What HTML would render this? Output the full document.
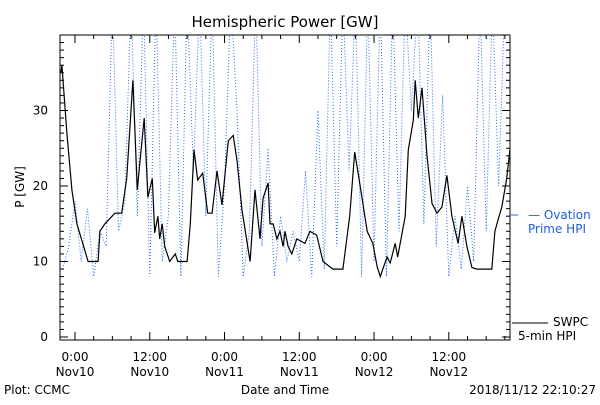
<!DOCTYPE html>
<html><head><meta charset="utf-8"><style>
body{margin:0;background:#fff;}
svg text{font-family:"DejaVu Sans","Liberation Sans",sans-serif;font-size:12px;}
</style></head><body>
<svg id="chart" width="600" height="400" xmlns="http://www.w3.org/2000/svg">
<rect width="600" height="400" fill="#fff"/>
<text x="285" y="27" text-anchor="middle" style="font-size:15px">Hemispheric Power [GW]</text>
<g id="plot"></g>
<text transform="translate(24,187) rotate(-90)" text-anchor="middle">P [GW]</text>
<text x="285" y="394" text-anchor="middle">Date and Time</text>
<text x="4" y="394">Plot: CCMC</text>
<text x="596" y="394" text-anchor="end">2018/11/12 22:10:27</text>
<g fill="#2060e0">
<line x1="510" y1="215" x2="518" y2="215" stroke="#2060e0"/>
<text x="528" y="219" fill="#2060e0">— Ovation</text>
<text x="528" y="233" fill="#2060e0">Prime HPI</text>
</g>
<g>
<line x1="512" y1="323" x2="548" y2="323" stroke="#000"/>
<text x="553" y="326">SWPC</text>
<text x="518" y="340">5-min HPI</text>
</g>
</svg>
<script>
const blackHours=[-2.25,-2.1,-1.3,-0.5,0.3,2.1,3.7,4.0,4.8,6.4,7.5,8.3,9.3,10.0,10.4,11.1,11.7,12.4,12.8,13.3,13.6,14.0,14.4,15.2,16.1,16.5,18.0,18.5,19.1,19.7,20.5,21.3,22.0,22.8,23.6,24.6,25.4,26.0,26.8,28.1,28.9,29.7,30.2,31.0,31.3,31.8,32.4,32.9,33.4,33.7,34.2,34.8,35.6,36.9,37.7,38.8,39.8,41.4,43.0,44.1,44.9,45.7,46.9,47.8,48.5,49.0,49.4,50.1,50.6,51.4,51.8,53.0,53.5,54.3,54.6,55.1,55.7,56.5,57.3,58.1,58.9,59.7,60.5,61.5,62.1,62.9,63.7,64.5,66.9,67.4,67.9,68.5,69.3,69.8];
const blackValues=[35,36,27,19.5,15,10,10,14,15,16.4,16.4,21,34,19.5,23,29,18.5,21,13.8,16,13,15,12,10,11,10,10,15,24.8,20.8,21.7,16.4,16.4,22,17.5,26,26.7,23.4,16.8,10,19.5,13,18.4,20.4,15,15,13,14,12,14,12,11,13,12.4,14,13.5,10,9,9,16,24.5,20.4,14,12.4,9.3,8,9,10.6,9.8,12.4,10.6,16,24.8,28.7,34,29,33,24,17.7,16.4,17.2,21.4,16,12.4,16,12,9.2,9,9,14,15.5,17.2,21,24.8];
const blueStart=-2;
const blueValues=[9,12,18,10,17,8,14,12,45,14,18,45,16,45,8,45,10,16,45,8,45,22,45,16,45,8,20,45,30,8,14,45,12,25,8,16,10,14,10,22,8,30,9,45,12,45,22,45,8,45,10,45,8,45,14,45,30,45,15,45,12,32,8,16,9,20,10,45,14,45,20,45];
const yTicks=[0,10,20,30];
const xTickHours=[0,12,24,36,48,60];
const xTickLabels=["0:00","12:00","0:00","12:00","0:00","12:00"];
const xTickDays=["Nov10","Nov10","Nov11","Nov11","Nov12","Nov12"];

const NS="http://www.w3.org/2000/svg";
const L=60,R=510,T=35,B=340;
const xs=h=>75+h*6.23;
const ys=v=>337-v*7.55;
const plot=document.getElementById('plot');
function mk(tag,attrs,parent){const e=document.createElementNS(NS,tag);for(const k in attrs)e.setAttribute(k,attrs[k]);(parent||plot).appendChild(e);return e;}
const defs=mk('defs',{});
const cp=mk('clipPath',{id:'clip'},defs);
mk('rect',{x:L,y:T,width:R-L,height:B-T},cp);
// blue series
let bp=blueValues.map((v,i)=>xs(blueStart+i).toFixed(1)+','+ys(v).toFixed(1)).join(' ');
const blue=mk('polyline',{points:bp,fill:'none',stroke:'#2a6cf0','stroke-width':1,'stroke-dasharray':'1 2','clip-path':'url(#clip)'});


// black series
let kp=blackHours.map((h,i)=>xs(h).toFixed(1)+','+ys(blackValues[i]).toFixed(1)).join(' ');
const blk=mk('polyline',{points:kp,fill:'none',stroke:'#000','stroke-width':1.2,'clip-path':'url(#clip)'});


// frame
const fr=mk('rect',{x:L,y:T,width:R-L,height:B-T,fill:'none',stroke:'#000'});


// y minor ticks
for(let v=0;v<=40;v++){if(ys(v)<T)break;const len=v%10===0?8:4;mk('line',{x1:L,y1:ys(v),x2:L+len,y2:ys(v),stroke:'#000'});mk('line',{x1:R,y1:ys(v),x2:R-len,y2:ys(v),stroke:'#000'});}
yTicks.forEach(v=>{const t=mk('text',{x:L-12,y:ys(v)+4,'text-anchor':'end'});t.textContent=v;

});
// x ticks
for(let h=-2;h<=70;h++){const x=xs(h);if(x<L||x>R)continue;const len=h%12===0?8:(h%3===0?4:0);if(!len)continue;mk('line',{x1:x,y1:B,x2:x,y2:B-len,stroke:'#000'});mk('line',{x1:x,y1:T,x2:x,y2:T+len,stroke:'#000'});}
xTickHours.forEach((h,i)=>{const t=mk('text',{x:xs(h),y:361,'text-anchor':'middle'});t.textContent=xTickLabels[i];


const d=mk('text',{x:xs(h),y:376,'text-anchor':'middle'});d.textContent=xTickDays[i];

});
</script>
</body></html>
